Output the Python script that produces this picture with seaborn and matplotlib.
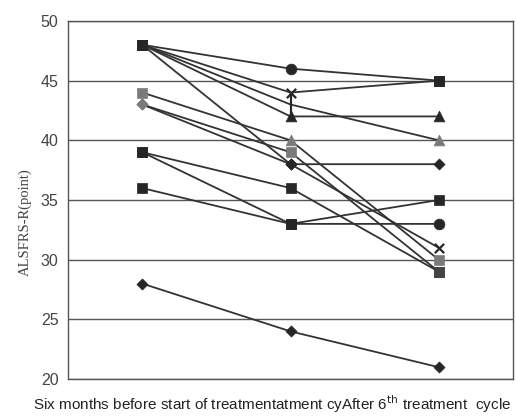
import pandas as pd
import matplotlib
matplotlib.use("Agg")
import matplotlib.pyplot as plt
import seaborn as sns

# ALSFRS-R score per patient at the three time points
timepoints = [0, 1, 2]
pt_a = [48, 46, 45]
pt_b = [48, 44, 45]
pt_c = [48, 42, 42]
pt_d = [48, 43, 40]
pt_e = [48, 38, 31]
pt_f = [44, 40, 30]
pt_g = [43, 39, 29]
pt_h = [43, 38, 38]
pt_i = [39, 36, 29]
pt_j = [39, 33, 35]
pt_k = [36, 33, 33]
pt_l = [28, 24, 21]

DARK = "#262626"
GREY = "#7a7a7a"
# marker style of each point (left, middle, right) and colour
series = [
    (pt_a, ("s", "o", "s"), (DARK, DARK, DARK)),
    (pt_b, ("s", "x", "s"), (DARK, DARK, DARK)),
    (pt_c, ("s", "^", "^"), (DARK, DARK, DARK)),
    (pt_d, ("s", "|", "^"), (DARK, DARK, GREY)),
    (pt_e, ("s", "D", "x"), (DARK, DARK, DARK)),
    (pt_f, ("s", "^", "s"), (GREY, GREY, GREY)),
    (pt_g, ("D", "s", "s"), (GREY, GREY, "#444444")),
    (pt_h, ("D", "D", "D"), (GREY, DARK, DARK)),
    (pt_i, ("s", "s", "s"), (DARK, DARK, DARK)),
    (pt_j, ("s", "s", "s"), (DARK, DARK, DARK)),
    (pt_k, ("s", "s", "o"), (DARK, DARK, DARK)),
    (pt_l, ("D", "D", "D"), (DARK, DARK, DARK)),
]

sns.set_style("white")
plt.rcParams["font.family"] = ["Liberation Sans", "DejaVu Sans"]

fig = plt.figure(figsize=(5.16, 4.18), dpi=100)
ax = fig.add_axes([0.132, 0.093, 0.862, 0.857])

rows = []
for vals, mks, cols in series:
    df = pd.DataFrame({"t": timepoints, "score": vals})
    sns.lineplot(data=df, x="t", y="score", ax=ax, color="#333333", linewidth=1.3, zorder=2)
    for t, v, m, c in zip(timepoints, vals, mks, cols):
        rows.append({"t": t, "score": v, "mk": m, "col": c})

pts = pd.DataFrame(rows)
sizes = {"s": 55, "o": 60, "^": 60, "D": 32, "x": 45, "|": 200}
for (m, c), grp in pts.groupby(["mk", "col"]):
    lw = 1.6 if m in ("x", "|") else 0.5
    sns.scatterplot(data=grp, x="t", y="score", ax=ax, marker=m, s=sizes[m],
                    color=c, edgecolor=c, linewidth=lw, zorder=3)

ax.set_xlim(-0.5, 2.5)
ax.set_ylim(20, 50)
ax.set_yticks([20, 25, 30, 35, 40, 45, 50])
ax.yaxis.grid(True, color="#555555", linewidth=1.0)
ax.set_axisbelow(True)
ax.set_xticks([0.5, 1.5])
ax.set_xticklabels([])
ax.tick_params(axis="x", direction="in", length=4, color="#555555", width=1)
ax.tick_params(axis="y", length=0, labelsize=11.5, labelcolor="#444444", pad=7)
for s in ax.spines.values():
    s.set_color("#555555")
    s.set_linewidth(1.0)
ax.set_xlabel("")
ax.set_ylabel("")

fig.text(0.048, 0.468, "ALSFRS-R(point)", rotation=90, ha="center", va="center",
         fontsize=10.5, color="#444444", family=["Liberation Serif", "DejaVu Serif"])
fig.text(0.064, 0.033, "Six months before start of treatmentatment cyAfter 6$^{\\rm th}$ treatment  cycle",
         ha="left", va="center", fontsize=11, color="#222222")

fig.savefig("out.png", dpi=100)
